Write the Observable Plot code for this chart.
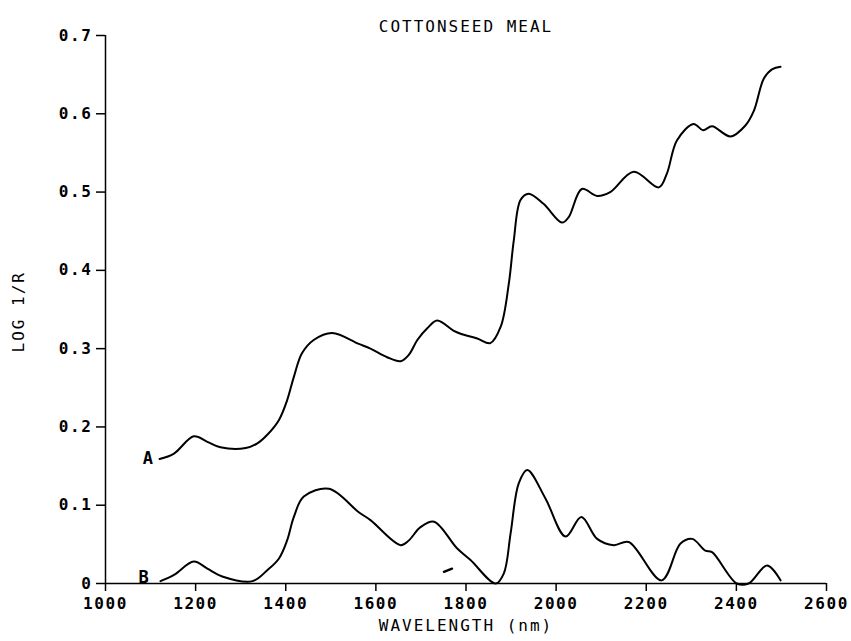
<!DOCTYPE html>
<html>
<head>
<meta charset="utf-8">
<script src="https://cdn.jsdelivr.net/npm/d3@7"></script>
<script src="https://cdn.jsdelivr.net/npm/@observablehq/plot@0.6"></script>
<style>
  html, body { margin: 0; padding: 0; background: #fff; }
  svg { font-family: "DejaVu Sans Mono", monospace; }
  svg text { letter-spacing: 2px; }
  svg g[aria-label="x-axis tick label"] text, svg g[aria-label="y-axis tick label"] text { letter-spacing: 1.6px; font-weight: bold; }
</style>
</head>
<body>
<div id="chart"></div>
<script>
const title = "COTTONSEED MEAL";
const xLabel = "WAVELENGTH (nm)";
const yLabel = "LOG 1/R";
const xTicks = [1000, 1200, 1400, 1600, 1800, 2000, 2200, 2400, 2600];
const yTicks = [0, 0.1, 0.2, 0.3, 0.4, 0.5, 0.6, 0.7];

const wavelengthA = [1120, 1152, 1196, 1226, 1255, 1311, 1337, 1359, 1385, 1403, 1418, 1436, 1462, 1503, 1562, 1588, 1625, 1655, 1673, 1692, 1714, 1736, 1772, 1788, 1825, 1854, 1877, 1895, 1906, 1921, 1939, 1972, 2013, 2028, 2057, 2091, 2120, 2172, 2228, 2246, 2268, 2305, 2326, 2346, 2387, 2420, 2439, 2461, 2480, 2498];
const logA = [0.159, 0.166, 0.188, 0.181, 0.174, 0.173, 0.179, 0.190, 0.209, 0.234, 0.264, 0.294, 0.311, 0.320, 0.306, 0.300, 0.289, 0.284, 0.292, 0.311, 0.326, 0.336, 0.323, 0.319, 0.313, 0.307, 0.328, 0.383, 0.438, 0.490, 0.498, 0.485, 0.461, 0.468, 0.504, 0.495, 0.500, 0.526, 0.506, 0.524, 0.566, 0.587, 0.579, 0.584, 0.571, 0.585, 0.604, 0.645, 0.657, 0.660];

const wavelengthB = [1122, 1152, 1196, 1226, 1259, 1326, 1359, 1385, 1403, 1418, 1440, 1496, 1562, 1588, 1655, 1673, 1699, 1729, 1780, 1810, 1866, 1884, 1899, 1917, 1936, 1976, 2021, 2056, 2091, 2128, 2161, 2234, 2276, 2302, 2331, 2346, 2401, 2427, 2468, 2498];
const logB = [0.003, 0.011, 0.028, 0.019, 0.009, 0.003, 0.017, 0.032, 0.055, 0.085, 0.111, 0.121, 0.091, 0.081, 0.049, 0.055, 0.072, 0.079, 0.045, 0.030, 0.000, 0.013, 0.064, 0.128, 0.145, 0.109, 0.060, 0.085, 0.057, 0.049, 0.053, 0.004, 0.051, 0.057, 0.042, 0.040, 0.000, 0.000, 0.023, 0.004];

// small stray stroke near 1760 nm
const markWavelength = [1751, 1769];
const markLog = [0.015, 0.019];

const seriesLabels = ["A", "B"];
const seriesLabelX = [1096, 1087];
const seriesLabelY = [0.159, 0.008];

const lineA = wavelengthA.map((x, i) => ({x, y: logA[i]}));
const lineB = wavelengthB.map((x, i) => ({x, y: logB[i]}));
const stray = markWavelength.map((x, i) => ({x, y: markLog[i]}));
const labels = seriesLabels.map((t, i) => ({t, x: seriesLabelX[i], y: seriesLabelY[i]}));

const fontSize = 16;

const chart = Plot.plot({
  width: 851,
  height: 641,
  marginLeft: 105,
  marginRight: 25,
  marginTop: 35,
  marginBottom: 58,
  style: {fontFamily: "'DejaVu Sans Mono', monospace", fontSize: fontSize + "px", color: "#000", background: "#fff"},
  x: {domain: [1000, 2600]},
  y: {domain: [0, 0.7]},
  marks: [
    Plot.axisX({ticks: xTicks, tickSize: 8, tickPadding: 6, tickFormat: d => String(d), label: null, fontSize: fontSize, stroke: "#000", strokeWidth: 1.5}),
    Plot.axisY({ticks: yTicks, tickSize: 9, tickPadding: 4, tickFormat: d => d === 0 ? "0" : d.toFixed(1), label: null, fontSize: fontSize, stroke: "#000", strokeWidth: 1.5}),
    Plot.ruleY([0], {stroke: "#000", strokeWidth: 1.5}),
    Plot.ruleX([1000], {stroke: "#000", strokeWidth: 1.5}),
    Plot.line(lineA, {x: "x", y: "y", curve: "catmull-rom", stroke: "#000", strokeWidth: 2}),
    Plot.line(lineB, {x: "x", y: "y", curve: "catmull-rom", stroke: "#000", strokeWidth: 2}),
    Plot.line(stray, {x: "x", y: "y", stroke: "#000", strokeWidth: 2.4}),
    Plot.text(labels, {x: "x", y: "y", text: "t", fontSize: 17, fontWeight: "bold", textAnchor: "middle", fill: "#000"}),
    Plot.text([title], {frameAnchor: "top", dy: -15, fontSize: 16, fill: "#000", text: d => d}),
    Plot.text([xLabel], {frameAnchor: "bottom", dy: 47, fontSize: 16, fill: "#000", text: d => d}),
    Plot.text([yLabel], {frameAnchor: "left", dx: -87, dy: 43, rotate: -90, fontSize: 16, fill: "#000", text: d => d})
  ]
});
document.getElementById("chart").appendChild(chart);
</script>
</body>
</html>
